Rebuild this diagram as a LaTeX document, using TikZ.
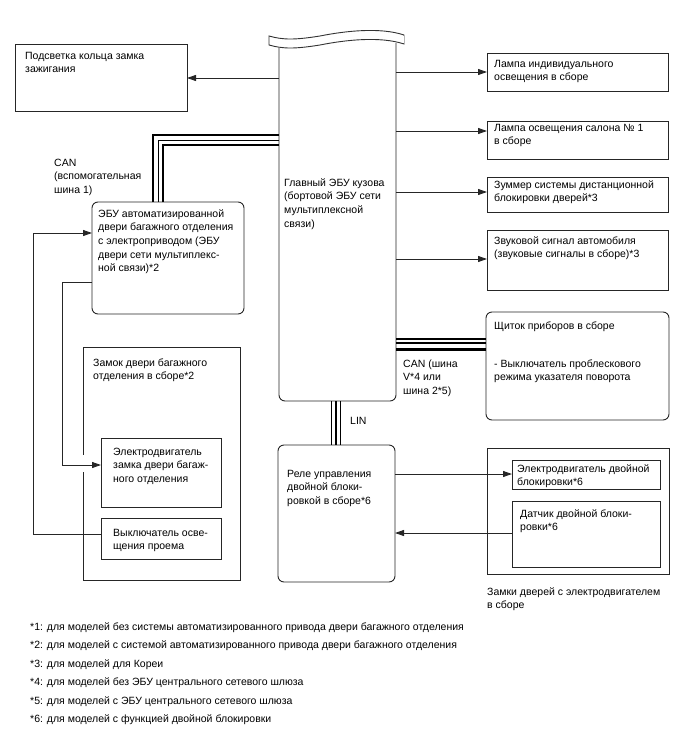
\documentclass[tikz,border=0pt]{standalone}
\usepackage{fontspec}
\setmainfont{Liberation Sans}
\usetikzlibrary{arrows.meta}
\newcommand{\mlines}[1]{\begin{tabular}[t]{@{}l@{}}#1\end{tabular}}
\begin{document}
\begin{tikzpicture}[x=1pt,y=-1pt,
  box/.style={draw=black!85, line width=0.9pt, anchor=north west, inner sep=0pt, outer sep=0pt},
  rbox/.style={box, rounded corners=6pt},
  txt/.style={anchor=base west, inner sep=0pt, font=\fontsize{10.5}{13.7}\selectfont},
  fn/.style={anchor=base west, inner sep=0pt, font=\fontsize{10.5}{13.7}\selectfont},
  arr/.style={draw=black!85, line width=0.9pt, -{Triangle[length=9pt,width=6pt]}},
  wire/.style={draw=black!85, line width=0.9pt},
  busthick/.style={draw=black, line width=2.2pt},
  busthin/.style={draw=black, line width=1pt}]
\useasboundingbox (0,0) rectangle (688,755);

% ---- boxes ----
\node[box, minimum width=172pt, minimum height=67pt] (ign) at (15,44) {};
\node[box, minimum width=181pt, minimum height=38pt] (lamp1) at (487,53) {};
\node[box, minimum width=181pt, minimum height=38pt] (lamp2) at (487,121) {};
\node[box, minimum width=181pt, minimum height=35pt] (buzz) at (487,177) {};
\node[box, minimum width=181pt, minimum height=60pt] (horn) at (487,230) {};
\node[rbox, minimum width=183pt, minimum height=108pt] (meter) at (486,312) {};
\node[rbox, minimum width=152pt, minimum height=112pt] (doorecu) at (92,202) {};
\node[box, minimum width=157pt, minimum height=233pt] (lockassy) at (83,347) {};
\node[box, minimum width=120pt, minimum height=69pt] (lockmotor) at (101,438) {};
\node[box, minimum width=120pt, minimum height=41pt] (courtesy) at (101,518) {};
\node[rbox, minimum width=117pt, minimum height=137pt] (relay) at (278,445) {};
\node[box, minimum width=182pt, minimum height=126pt] (doorlocks) at (487,448) {};
\node[box, minimum width=148pt, minimum height=29pt] (dlmotor) at (512,460) {};
\node[box, minimum width=148pt, minimum height=66pt] (dlsensor) at (512,501) {};

% ---- main body ECU (open top with break marks) ----
\node[anchor=north west, inner sep=0pt, outer sep=0pt, minimum width=117pt, minimum height=358pt] (main) at (279,43) {};
\draw[wire, rounded corners=6pt] (279,48) -- (279,401) -- (396,401) -- (396,43);
\draw[wire, draw=black!80, fill=white] (269,36) .. controls (283,40) and (295,40) .. (320,36) .. controls (345,31) and (380,27) .. (404,35)
  -- (404,44) .. controls (380,36) and (345,40) .. (320,45) .. controls (295,49) and (283,49) .. (269,45) -- cycle;
\fill[white] (269.5,36.8) rectangle (270.3,44.2);
\fill[white] (403.2,35.8) rectangle (403.9,43.4);

% ---- texts ----
\node[txt] (tign) at (25,59) {\mlines{Подсветка кольца замка\\зажигания}};
\node[txt] (tlamp1) at (494,67) {\mlines{Лампа индивидуального\\освещения в сборе}};
\node[txt] (tlamp2) at (494,131) {\mlines{Лампа освещения салона № 1\\в сборе}};
\node[txt] (tbuzz) at (494,188) {\mlines{Зуммер системы дистанционной\\блокировки дверей*3}};
\node[txt] (thorn) at (494,244) {\mlines{Звуковой сигнал автомобиля\\(звуковые сигналы в сборе)*3}};
\node[txt] (tmeter) at (494,329) {Щиток приборов в сборе};
\node[txt] (tmeter2) at (494,367) {\mlines{- Выключатель проблескового\\режима указателя поворота}};
\node[txt] (tcanr) at (403,367) {\mlines{CAN (шина\\V*4 или\\шина 2*5)}};
\node[txt] (tmain) at (284,186) {\mlines{Главный ЭБУ кузова\\(бортовой ЭБУ сети\\мультиплексной\\связи)}};
\node[txt] (tcanl) at (54,166) {\mlines{CAN\\(вспомогательная\\шина 1)}};
\node[txt] (tdoorecu) at (98,217) {\mlines{ЭБУ автоматизированной\\двери багажного отделения\\с электроприводом (ЭБУ\\двери сети мультиплекс-\\ной связи)*2}};
\node[txt] (tlockassy) at (93,366) {\mlines{Замок двери багажного\\отделения в сборе*2}};
\node[txt] (tlockmotor) at (113,455) {\mlines{Электродвигатель\\замка двери багаж-\\ного отделения}};
\node[txt] (tcourtesy) at (113,536) {\mlines{Выключатель осве-\\щения проема}};
\node[txt] (trelay) at (287,477) {\mlines{Реле управления\\двойной блоки-\\ровкой в сборе*6}};
\node[txt] (tdlmotor) at (517,472) {\mlines{Электродвигатель двойной\\блокировки*6}};
\node[txt] (tdlsensor) at (520,517) {\mlines{Датчик двойной блоки-\\ровки*6}};
\node[txt] (tdoorlocks) at (487,595) {\mlines{Замки дверей с электродвигателем\\в сборе}};
\node[txt] (tlin) at (350,424) {LIN};

% ---- connectors ----
\draw[arr] (main.west |- 0,78) -- (ign.east |- 0,78);
\draw[arr] (main.east |- 0,72) -- (lamp1.west |- 0,72);
\draw[arr] (main.east |- 0,131) -- (lamp2.west |- 0,131);
\draw[arr] (main.east |- 0,192) -- (buzz.west |- 0,192);
\draw[arr] (main.east |- 0,259) -- (horn.west |- 0,259);

\draw[arr] (courtesy.west |- 0,534) -- (33,534) -- (33,233) -- (doorecu.west |- 0,233);
\draw[white, line width=2.5pt] (83,455) -- (83,472);
\draw[arr] (doorecu.west |- 0,282) -- (62,282) -- (62,465) -- (lockmotor.west |- 0,465);

\draw[arr] (relay.east |- 0,474) -- (dlmotor.west |- 0,474);
\draw[arr] (dlsensor.west |- 0,533) -- (relay.east |- 0,533);

% CAN aux bus 1
\draw[busthick, miter limit=10] (153,0 |- doorecu.north) -- (153,135) -- (main.west |- 0,135);
\draw[busthin] (158,0 |- doorecu.north) -- (158,140) -- (main.west |- 0,140);
\draw[busthick] (163,0 |- doorecu.north) -- (163,145) -- (main.west |- 0,145);
% CAN V / bus 2
\draw[busthick] (main.east |- 0,339) -- (meter.west |- 0,339);
\draw[busthick] (main.east |- 0,343) -- (meter.west |- 0,343);
\draw[busthick] (main.east |- 0,349.5) -- (meter.west |- 0,349.5);
% LIN
\draw[busthin] (331,0 |- main.south) -- (331,0 |- relay.north);
\draw[busthick, line width=2.6pt] (336,0 |- main.south) -- (336,0 |- relay.north);
\draw[busthin] (340.5,0 |- main.south) -- (340.5,0 |- relay.north);

% ---- footnotes ----
\node[fn] (f1) at (30,630) {*1: для моделей без системы автоматизированного привода двери багажного отделения};
\node[fn] (f2) at (30,648.5) {*2: для моделей с системой автоматизированного привода двери багажного отделения};
\node[fn] (f3) at (30,667) {*3: для моделей для Кореи};
\node[fn] (f4) at (30,685.5) {*4: для моделей без ЭБУ центрального сетевого шлюза};
\node[fn] (f5) at (30,704) {*5: для моделей с ЭБУ центрального сетевого шлюза};
\node[fn] (f6) at (30,722.5) {*6: для моделей с функцией двойной блокировки};
\end{tikzpicture}
\end{document}
